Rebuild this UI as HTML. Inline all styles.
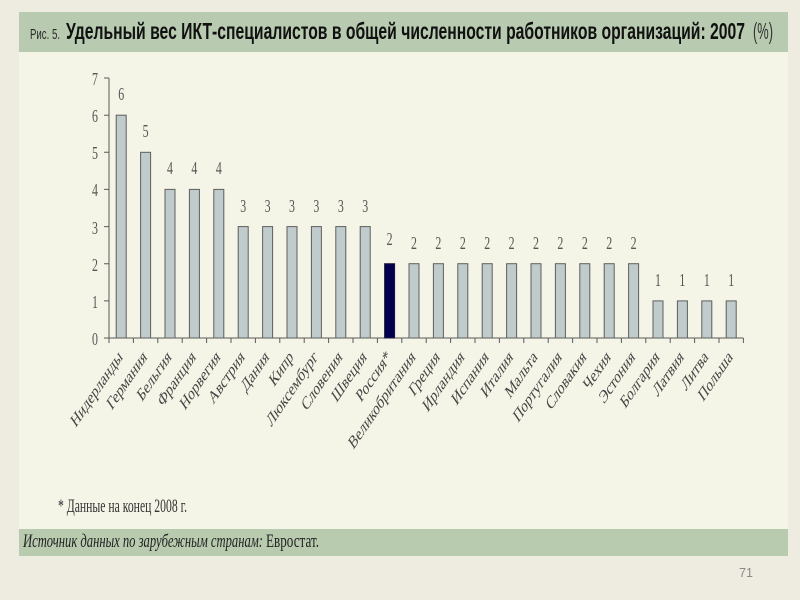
<!DOCTYPE html>
<html>
<head>
<meta charset="utf-8">
<style>
  html,body{margin:0;padding:0;background:#eeece1;}
  svg{display:block;}
</style>
</head>
<body>
<svg width="800" height="600" viewBox="0 0 800 600" xmlns="http://www.w3.org/2000/svg">
  <rect x="0" y="0" width="800" height="600" fill="#eeece1"/>
  <!-- panel -->
  <rect x="19" y="12" width="769" height="544" fill="#f4f4e7"/>
  <!-- title band -->
  <rect x="19" y="12" width="769" height="40" fill="#b8cbb0"/>
  <text x="30" y="39" font-family="Liberation Sans, sans-serif" font-size="15" fill="#2a2a2a" textLength="30" lengthAdjust="spacingAndGlyphs">Рис. 5.</text>
  <text x="66" y="39" font-family="Liberation Sans, sans-serif" font-size="23" font-weight="bold" fill="#111" textLength="679" lengthAdjust="spacingAndGlyphs">Удельный вес ИКТ-специалистов в общей численности работников организаций: 2007</text>
  <text x="753" y="39" font-family="Liberation Sans, sans-serif" font-size="23" fill="#333" textLength="20" lengthAdjust="spacingAndGlyphs">(%)</text>

  <!-- source band -->
  <rect x="19" y="529" width="769" height="27" fill="#b8cbaf"/>
  <text x="23" y="547" font-family="Liberation Serif, serif" font-size="18.5" font-style="italic" fill="#222" textLength="240" lengthAdjust="spacingAndGlyphs">Источник данных по зарубежным странам:</text>
  <text x="266" y="547" font-family="Liberation Serif, serif" font-size="18.5" fill="#222" textLength="53" lengthAdjust="spacingAndGlyphs">Евростат.</text>

  <!-- footnote -->
  <text x="58" y="512" font-family="Liberation Serif, serif" font-size="18.5" fill="#333" textLength="129" lengthAdjust="spacingAndGlyphs">* Данные на конец 2008 г.</text>

  <!-- page number -->
  <text x="739" y="577" font-family="Liberation Sans, sans-serif" font-size="13" fill="#8a8a8a" textLength="14" lengthAdjust="spacingAndGlyphs">71</text>

  <!-- axes -->
  <g stroke="#5a5a5a" stroke-width="1" fill="none">
    <line x1="109" y1="78" x2="109" y2="338"/>
    <line x1="109" y1="338" x2="743.4" y2="338"/>
    <path d="M104 338H109M104 300.9H109M104 263.7H109M104 226.6H109M104 189.4H109M104 152.3H109M104 115.2H109M104 78H109"/>
    <path d="M109 338V343M133.4 338V343M157.8 338V343M182.2 338V343M206.6 338V343M231 338V343M255.4 338V343M279.8 338V343M304.2 338V343M328.6 338V343M353 338V343M377.4 338V343M401.8 338V343M426.2 338V343M450.6 338V343M475 338V343M499.4 338V343M523.8 338V343M548.2 338V343M572.6 338V343M597 338V343M621.4 338V343M645.8 338V343M670.2 338V343M694.6 338V343M719 338V343M743.4 338V343"/>
  </g>

  <!-- y labels -->
  <g font-family="Liberation Serif, serif" font-size="17.5" fill="#555" text-anchor="end">
    <text transform="translate(98,345) scale(0.68,1)">0</text>
    <text transform="translate(98,308) scale(0.68,1)">1</text>
    <text transform="translate(98,271) scale(0.68,1)">2</text>
    <text transform="translate(98,234) scale(0.68,1)">3</text>
    <text transform="translate(98,196) scale(0.68,1)">4</text>
    <text transform="translate(98,159) scale(0.68,1)">5</text>
    <text transform="translate(98,122) scale(0.68,1)">6</text>
    <text transform="translate(98,85) scale(0.68,1)">7</text>
  </g>

  <!-- bars -->
  <g fill="#c0cccc" stroke="#5e5e5e" stroke-width="1">
    <rect x="116.2" y="115.2" width="10" height="222.8"/>
    <rect x="140.6" y="152.3" width="10" height="185.7"/>
    <rect x="165" y="189.4" width="10" height="148.6"/>
    <rect x="189.4" y="189.4" width="10" height="148.6"/>
    <rect x="213.8" y="189.4" width="10" height="148.6"/>
    <rect x="238.2" y="226.6" width="10" height="111.4"/>
    <rect x="262.6" y="226.6" width="10" height="111.4"/>
    <rect x="287" y="226.6" width="10" height="111.4"/>
    <rect x="311.4" y="226.6" width="10" height="111.4"/>
    <rect x="335.8" y="226.6" width="10" height="111.4"/>
    <rect x="360.2" y="226.6" width="10" height="111.4"/>
    <rect x="384.6" y="263.7" width="10" height="74.3" fill="#00004f" stroke="#1a1a3a"/>
    <rect x="409" y="263.7" width="10" height="74.3"/>
    <rect x="433.4" y="263.7" width="10" height="74.3"/>
    <rect x="457.8" y="263.7" width="10" height="74.3"/>
    <rect x="482.2" y="263.7" width="10" height="74.3"/>
    <rect x="506.6" y="263.7" width="10" height="74.3"/>
    <rect x="531" y="263.7" width="10" height="74.3"/>
    <rect x="555.4" y="263.7" width="10" height="74.3"/>
    <rect x="579.8" y="263.7" width="10" height="74.3"/>
    <rect x="604.2" y="263.7" width="10" height="74.3"/>
    <rect x="628.6" y="263.7" width="10" height="74.3"/>
    <rect x="653" y="300.9" width="10" height="37.1"/>
    <rect x="677.4" y="300.9" width="10" height="37.1"/>
    <rect x="701.8" y="300.9" width="10" height="37.1"/>
    <rect x="726.2" y="300.9" width="10" height="37.1"/>
  </g>

  <!-- value labels -->
  <g font-family="Liberation Serif, serif" font-size="17.5" fill="#555" text-anchor="middle">
    <text transform="translate(121.2,100) scale(0.68,1)">6</text>
    <text transform="translate(145.6,137) scale(0.68,1)">5</text>
    <text transform="translate(170,174) scale(0.68,1)">4</text>
    <text transform="translate(194.4,174) scale(0.68,1)">4</text>
    <text transform="translate(218.8,174) scale(0.68,1)">4</text>
    <text transform="translate(243.2,212) scale(0.68,1)">3</text>
    <text transform="translate(267.6,212) scale(0.68,1)">3</text>
    <text transform="translate(292,212) scale(0.68,1)">3</text>
    <text transform="translate(316.4,212) scale(0.68,1)">3</text>
    <text transform="translate(340.8,212) scale(0.68,1)">3</text>
    <text transform="translate(365.2,212) scale(0.68,1)">3</text>
    <text transform="translate(389.6,245) scale(0.68,1)">2</text>
    <text transform="translate(414,249) scale(0.68,1)">2</text>
    <text transform="translate(438.4,249) scale(0.68,1)">2</text>
    <text transform="translate(462.8,249) scale(0.68,1)">2</text>
    <text transform="translate(487.2,249) scale(0.68,1)">2</text>
    <text transform="translate(511.6,249) scale(0.68,1)">2</text>
    <text transform="translate(536,249) scale(0.68,1)">2</text>
    <text transform="translate(560.4,249) scale(0.68,1)">2</text>
    <text transform="translate(584.8,249) scale(0.68,1)">2</text>
    <text transform="translate(609.2,249) scale(0.68,1)">2</text>
    <text transform="translate(633.6,249) scale(0.68,1)">2</text>
    <text transform="translate(658,286) scale(0.68,1)">1</text>
    <text transform="translate(682.4,286) scale(0.68,1)">1</text>
    <text transform="translate(706.8,286) scale(0.68,1)">1</text>
    <text transform="translate(731.2,286) scale(0.68,1)">1</text>
  </g>

  <!-- x labels -->
  <g font-family="Liberation Serif, serif" font-size="18.5" fill="#444" text-anchor="end">
    <text transform="translate(123.2,358) scale(0.68,1) rotate(-45)">Нидерланды</text>
    <text transform="translate(147.6,358) scale(0.68,1) rotate(-45)">Германия</text>
    <text transform="translate(172,358) scale(0.68,1) rotate(-45)">Бельгия</text>
    <text transform="translate(196.4,358) scale(0.68,1) rotate(-45)">Франция</text>
    <text transform="translate(220.8,358) scale(0.68,1) rotate(-45)">Норвегия</text>
    <text transform="translate(245.2,358) scale(0.68,1) rotate(-45)">Австрия</text>
    <text transform="translate(269.6,358) scale(0.68,1) rotate(-45)">Дания</text>
    <text transform="translate(294,358) scale(0.68,1) rotate(-45)">Кипр</text>
    <text transform="translate(318.4,358) scale(0.68,1) rotate(-45)">Люксембург</text>
    <text transform="translate(342.8,358) scale(0.68,1) rotate(-45)">Словения</text>
    <text transform="translate(367.2,358) scale(0.68,1) rotate(-45)">Швеция</text>
    <text transform="translate(391.6,358) scale(0.68,1) rotate(-45)">Россия*</text>
    <text transform="translate(416,358) scale(0.68,1) rotate(-45)">Великобритания</text>
    <text transform="translate(440.4,358) scale(0.68,1) rotate(-45)">Греция</text>
    <text transform="translate(464.8,358) scale(0.68,1) rotate(-45)">Ирландия</text>
    <text transform="translate(489.2,358) scale(0.68,1) rotate(-45)">Испания</text>
    <text transform="translate(513.6,358) scale(0.68,1) rotate(-45)">Италия</text>
    <text transform="translate(538,358) scale(0.68,1) rotate(-45)">Мальта</text>
    <text transform="translate(562.4,358) scale(0.68,1) rotate(-45)">Португалия</text>
    <text transform="translate(586.8,358) scale(0.68,1) rotate(-45)">Словакия</text>
    <text transform="translate(611.2,358) scale(0.68,1) rotate(-45)">Чехия</text>
    <text transform="translate(635.6,358) scale(0.68,1) rotate(-45)">Эстония</text>
    <text transform="translate(660,358) scale(0.68,1) rotate(-45)">Болгария</text>
    <text transform="translate(684.4,358) scale(0.68,1) rotate(-45)">Латвия</text>
    <text transform="translate(708.8,358) scale(0.68,1) rotate(-45)">Литва</text>
    <text transform="translate(733.2,358) scale(0.68,1) rotate(-45)">Польша</text>
  </g>
</svg>
</body>
</html>
